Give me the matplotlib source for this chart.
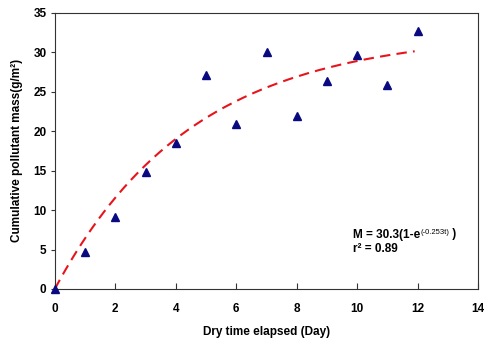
import numpy as np
import matplotlib
matplotlib.use("Agg")
import matplotlib.pyplot as plt

plt.rcParams['font.family'] = ['Liberation Sans', 'DejaVu Sans']

days = [0, 1, 2, 3, 4, 5, 6, 7, 8, 9, 10, 11, 12]
mass = [0.0, 4.7, 9.1, 14.8, 18.5, 27.1, 20.9, 30.0, 21.9, 26.4, 29.7, 25.9, 32.7]

# parameters of the drawn fitted curve
fit_A = 32.5
fit_k = 0.22
fit_tmax = 11.9

xticks = [0, 2, 4, 6, 8, 10, 12, 14]
yticks = [0, 5, 10, 15, 20, 25, 30, 35]

fig = plt.figure(figsize=(4.85, 3.38), dpi=100)
ax = fig.add_axes([0.113, 0.145, 0.873, 0.817])

t = np.linspace(0, fit_tmax, 200)
ax.plot(t, fit_A * (1 - np.exp(-fit_k * t)), color='#e8141c', linestyle=(0, (5, 3)), linewidth=1.5, zorder=2)
ax.plot(days, mass, linestyle='none', marker='^', markersize=6.3, color='#0a0a80', zorder=3, clip_on=False)

ax.set_xlim(0, 14)
ax.set_ylim(0, 35)
ax.set_xticks(xticks)
ax.set_yticks(yticks)
ax.tick_params(axis='x', direction='in', length=4, labelsize=8.5, pad=10, color='#333333')
ax.tick_params(axis='y', direction='out', length=3, labelsize=8.5, pad=3, color='#333333')
for lab in ax.get_xticklabels() + ax.get_yticklabels():
    lab.set_fontweight('bold')
for s in ax.spines.values():
    s.set_color('#333333')
    s.set_linewidth(0.8)

ax.set_xlabel('Dry time elapsed (Day)', fontsize=8.5, fontweight='bold', labelpad=8)
ax.set_ylabel('Cumulative pollutant mass(g/m²)', fontsize=8.5, fontweight='bold', labelpad=7)

t1 = ax.text(9.87, 6.8, 'M = 30.3(1-e', fontsize=8.5, fontweight='bold', va='center', ha='left')
t2 = ax.annotate('(-0.253t)', xy=(1, 0.75), xycoords=t1, fontsize=5.5, fontweight='normal',
                 va='center', ha='left')
ax.annotate(' )', xy=(1, 0), xycoords=t2, xytext=(0, -3), textcoords='offset points',
            fontsize=8.5, fontweight='bold', va='bottom', ha='left')
ax.text(9.87, 5.1, 'r² = 0.89', fontsize=8.5, fontweight='bold', va='center', ha='left')

fig.savefig('out.png', dpi=100)
